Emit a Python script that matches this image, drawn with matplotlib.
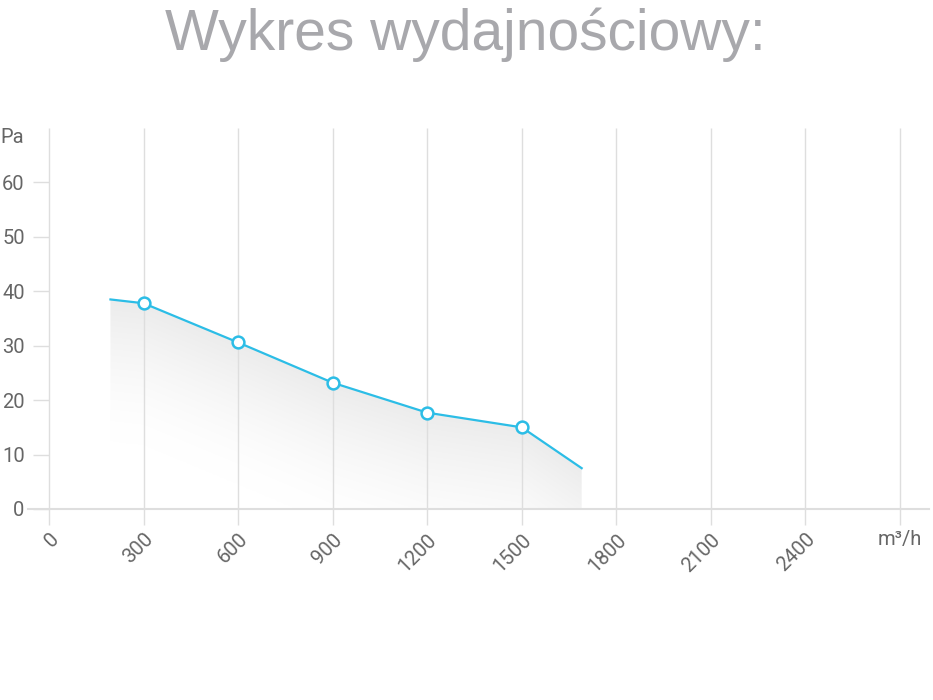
#!/usr/bin/env python3
"""
Performance chart (Wykres wydajnosciowy) - pressure vs. airflow
"""

import numpy as np
import matplotlib
matplotlib.use('Agg')
import matplotlib.pyplot as plt

# data
flow = [195, 300, 600, 900, 1200, 1500, 1690]        # m3/h
pressure = [38.5, 37.8, 30.6, 23.2, 17.7, 15.0, 7.5]  # Pa
marker_flow = [300, 600, 900, 1200, 1500]
marker_pressure = [37.8, 30.6, 23.2, 17.7, 15.0]

x_ticks = [0, 300, 600, 900, 1200, 1500, 1800, 2100, 2400, 2700]
x_labels = ['0', '300', '600', '900', '1200', '1500', '1800', '2100', '2400', 'm³/h']
y_ticks = [0, 10, 20, 30, 40, 50, 60]

LINE = '#2cbde6'
GRID = '#dedede'
TXT = '#666666'

plt.rcParams['font.family'] = ['Roboto', 'DejaVu Sans']

fig = plt.figure(figsize=(9.33, 7), dpi=100)
ax = fig.add_axes([49 / 933, 1 - 509 / 700, (900 - 49) / 933, (509 - 128) / 700])
ax.set_xlim(0, 2700)
ax.set_ylim(0, 70)
for s in ax.spines.values():
    s.set_visible(False)

# vertical grid lines (run a bit below the axis)
ax.vlines(x_ticks, -3, 70, color=GRID, lw=1, clip_on=False, zorder=3)
# base line
ax.plot([-67, 2792], [0, 0], color=GRID, lw=1.5, clip_on=False, zorder=3)

# gradient fill under the curve, darker near the line
xs = np.linspace(flow[0], flow[-1], 400)
ys = np.linspace(0, 40, 300)
X, Y = np.meshgrid(xs, ys)
d = np.interp(X, flow, pressure) - Y
a = np.clip(1 - d / 26, 0, 1) ** 1.5
img = np.ones((len(ys), len(xs), 3)) - 0.075 * a[..., None]
poly = ax.fill_between(flow, pressure, 0, color='none', lw=0)
im = ax.imshow(img, extent=[xs[0], xs[-1], 0, 40], origin='lower',
               aspect='auto', interpolation='bilinear', zorder=2)
im.set_clip_path(poly.get_paths()[0], transform=ax.transData)

ax.plot(flow, pressure, color=LINE, lw=1.6, zorder=4)
ax.plot(marker_flow, marker_pressure, 'o', ms=8.5, mfc='white', mec=LINE,
        mew=1.8, zorder=5)

ax.set_yticks(y_ticks)
ax.tick_params(axis='y', length=11.5, width=1, color=GRID, pad=6,
               labelsize=14.5, labelcolor=TXT)
ax.set_xticks(x_ticks)
ax.set_xticklabels(x_labels)
ax.tick_params(axis='x', length=0, pad=15, labelsize=14.5, labelcolor=TXT)
for lbl in ax.get_xticklabels()[:-1]:
    lbl.set_rotation(45)
    lbl.set_rotation_mode('anchor')
    lbl.set_ha('right')
    lbl.set_va('top')

ax.text(-155, 68.3, 'Pa', fontsize=14.5, color=TXT, ha='left', va='center')

fig.text(0.4984, 1 - 50 / 700, 'Wykres wydajnościowy:', fontsize=41,
         color='#a8a8ac', family=['Liberation Sans', 'DejaVu Sans'],
         ha='center', va='baseline')

fig.savefig('out.png', dpi=100, facecolor='white')
